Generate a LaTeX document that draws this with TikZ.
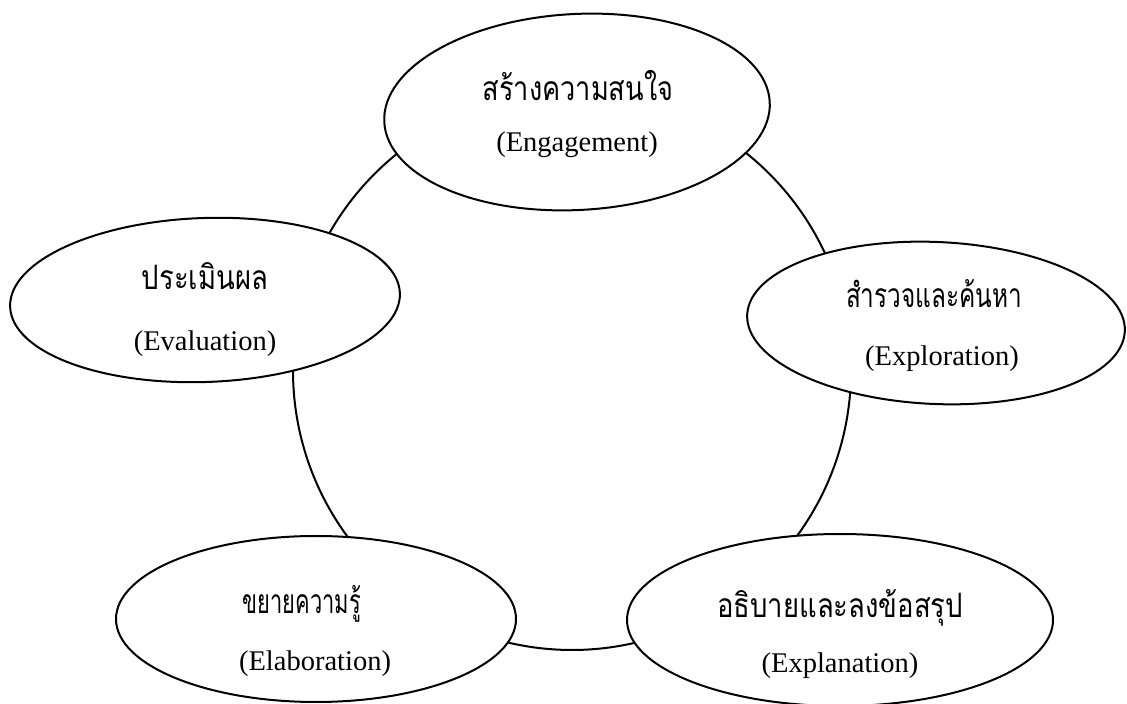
\documentclass[tikz,border=0pt]{standalone}
\usepackage{fontspec}
\setmainfont{Liberation Serif}
\newfontfamily\thaifont[Script=Thai]{Loma}
\usetikzlibrary{shapes.geometric,calc}
\pgfdeclarelayer{background}
\pgfsetlayers{background,main}
\newcommand\cyclelink[2]{%
  \draw[link] let \p1=($(#1)-(ctr)$), \p2=($(#2)-(ctr)$),
     \n1={atan2(\y1,\x1)}, \n2={atan2(\y2,\x2)},
     \n3={\n2<\n1 ? \n2+360 : \n2} in
     ($(ctr)+(\n1:279pt)$) arc[start angle=\n1, end angle=\n3, radius=279pt];}
\newcommand\thaiword[2]{\scalebox{#1}[1.2]{#2}}
\begin{document}
\begin{tikzpicture}[x=1pt,y=1pt,
  stage/.style={draw=black, line width=2pt, fill=white, ellipse, inner sep=0pt},
  thaitext/.style={font=\thaifont\fontsize{28}{34}\selectfont, anchor=base, inner sep=0pt},
  entext/.style={font=\fontsize{28.5}{34}\selectfont, anchor=base, inner sep=0pt},
  link/.style={draw=black, line width=2pt}]
\useasboundingbox (0,0) rectangle (1127,704);
\clip (0,0) rectangle (1127,704);
\coordinate (ctr) at (572,333);
% stages
\node[stage, minimum width=386pt, minimum height=196pt, rotate=3]  (eng) at (577,592) {};
\node[stage, minimum width=378pt, minimum height=162pt, rotate=-2.5] (exr) at (936,381) {};
\node[stage, minimum width=426pt, minimum height=172pt] (exn) at (840,84) {};
\node[stage, minimum width=400pt, minimum height=166pt] (ela) at (316,85) {};
\node[stage, minimum width=390pt, minimum height=164pt, rotate=2] (eva) at (205,404) {};
% texts
\node[thaitext] (engA) at (578,603) {\thaiword{0.97}{สร้างความสนใจ}};
\node[entext]   (engB) at (577,552) {(Engagement)};
\node[thaitext] (exrA) at (934,396) {\thaiword{0.87}{สำรวจและค้นหา}};
\node[entext]   (exrB) at (942,338) {(Exploration)};
\node[thaitext] (exnA) at (840,86) {\thaiword{0.98}{อธิบายและลงข้อสรุป}};
\node[entext]   (exnB) at (840,31) {(Explanation)};
\node[thaitext] (elaA) at (302,90) {\thaiword{0.78}{ขยายความรู้}};
\node[entext]   (elaB) at (315,33) {(Elaboration)};
\node[thaitext] (evaA) at (205,414) {\thaiword{0.98}{ประเมินผล}};
\node[entext]   (evaB) at (205,353) {(Evaluation)};
% connectors
\begin{pgfonlayer}{background}
  \fill[white] (0,0) rectangle (1127,704);
  \cyclelink{eng}{eva}
  \cyclelink{eva}{ela}
  \cyclelink{ela}{exn}
  \cyclelink{exn}{exr}
  \cyclelink{exr}{eng}
\end{pgfonlayer}
\end{tikzpicture}
\end{document}
